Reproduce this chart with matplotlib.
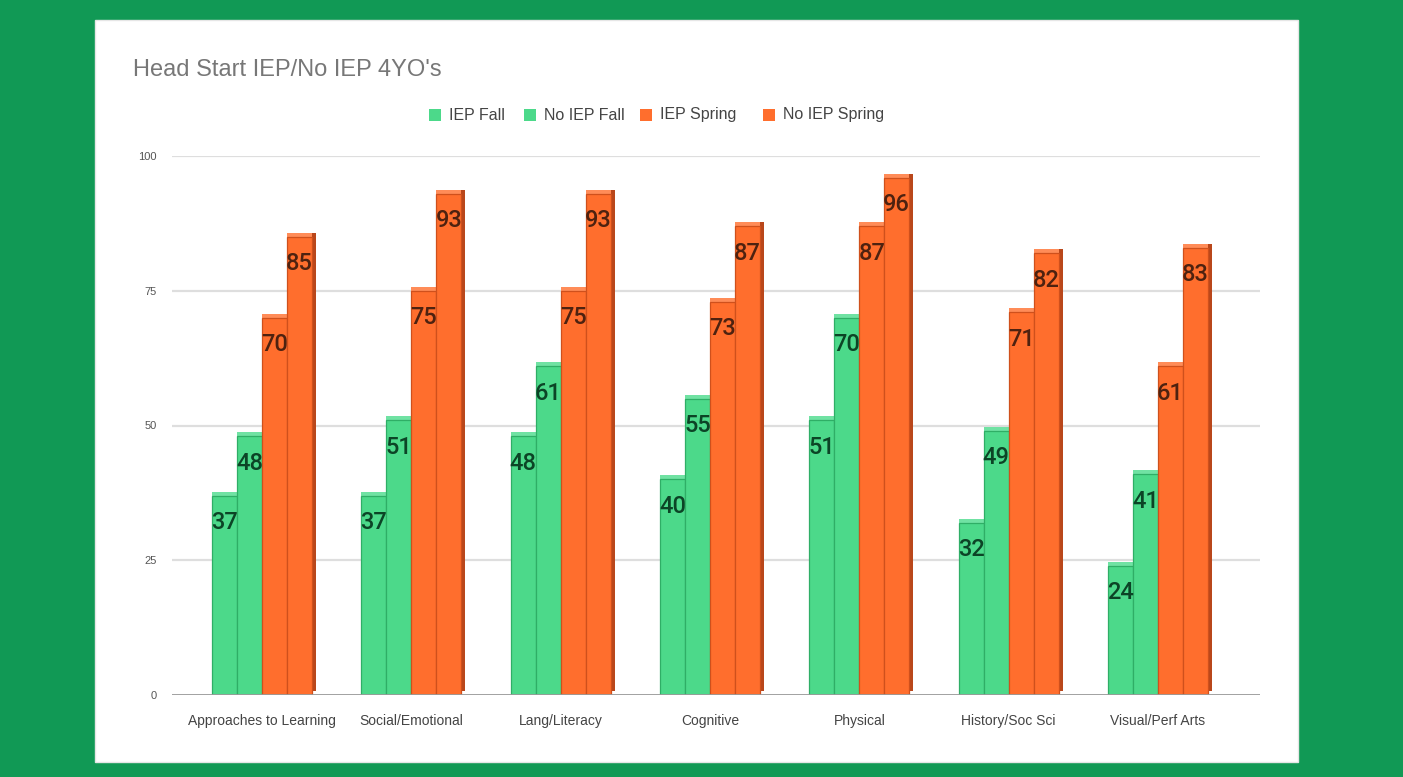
import matplotlib
matplotlib.use("Agg")
import matplotlib.pyplot as plt
import numpy as np
from matplotlib.transforms import ScaledTranslation
from matplotlib.patches import Rectangle

categories = ["Approaches to Learning", "Social/Emotional", "Lang/Literacy",
              "Cognitive", "Physical", "History/Soc Sci", "Visual/Perf Arts"]
series_names = ["IEP Fall", "No IEP Fall", "IEP Spring", "No IEP Spring"]
iep_fall = [37, 37, 48, 40, 51, 32, 24]
no_iep_fall = [48, 51, 61, 55, 70, 49, 41]
iep_spring = [70, 75, 75, 73, 87, 71, 61]
no_iep_spring = [85, 93, 93, 87, 96, 82, 83]
yticks = [0, 25, 50, 75, 100]

series = [iep_fall, no_iep_fall, iep_spring, no_iep_spring]
front_cols = ["#4cd98a", "#4cd98a", "#ff6e2d", "#ff6e2d"]
side_cols = ["#2c9e5e", "#2c9e5e", "#b9471b", "#b9471b"]
top_cols = ["#70e2a3", "#70e2a3", "#ff8c58", "#ff8c58"]
edge_cols = ["#2fae66", "#2fae66", "#cf501c", "#cf501c"]
label_cols = ["#0c4426", "#0c4426", "#4e2210", "#4e2210"]

W, H = 1403, 777
fig = plt.figure(figsize=(W / 100, H / 100), dpi=100)
fig.patch.set_facecolor("#119955")
# white panel
fig.patches.append(Rectangle((95 / W, 1 - 762 / H), (1298 - 95) / W, (762 - 20) / H,
                             transform=fig.transFigure, facecolor="white",
                             edgecolor="#e6e6e6", lw=1.0, zorder=-5))

ax = fig.add_axes([172 / W, 1 - 695 / H, (1260 - 172) / W, (695 - 156) / H])
ax.set_zorder(2)
ax.set_facecolor("none")
ax.set_xlim(-0.603, 6.683)
ax.set_ylim(0, 100)
for s in ax.spines.values():
    s.set_visible(False)
ax.set_yticks(yticks)
ax.set_yticklabels([str(t) for t in yticks], fontsize=8, color="#555555",
                   family="Liberation Sans")
ax.tick_params(axis="y", length=0, pad=11)
ax.set_xticks(np.arange(len(categories)))
ax.set_xticklabels(categories, fontsize=10, color="#444444", family="Liberation Sans")
ax.tick_params(axis="x", length=0, pad=14)
for t in yticks:
    if t == 0:
        ax.axhline(t, color="#9a9a9a", lw=1.3, zorder=20)
    else:
        ax.axhline(t, color="#dedede", lw=1.6, zorder=0.5)

x = np.arange(len(categories))
bw = 0.167
dx, dy = 4 / 100, 4 / 100
side_tr = ax.transData + ScaledTranslation(dx, dy, fig.dpi_scale_trans)
top_tr = ax.transData + ScaledTranslation(0, dy, fig.dpi_scale_trans)

for i, (vals, fc, sc, tc, ec, lc) in enumerate(zip(series, front_cols, side_cols,
                                                   top_cols, edge_cols, label_cols)):
    xs = x + (i - 1.5) * bw
    z = 2 + i
    ax.bar(xs, vals, width=bw, color=sc, transform=side_tr, zorder=z)
    ax.bar(xs, vals, width=bw, color=tc, transform=top_tr, zorder=z + 0.1)
    ax.bar(xs, vals, width=bw, color=fc, edgecolor=ec, lw=0.9, zorder=z + 0.2)
    for xv, v in zip(xs, vals):
        ax.annotate(str(v), (xv, v), xytext=(0, -19.5), textcoords="offset points",
                    ha="center", va="center", fontsize=17, color=lc,
                    family="Roboto", fontweight="medium", zorder=10)

# title
fig.text(133 / W, 1 - 70 / H, "Head Start IEP/No IEP 4YO's", fontsize=17,
         color="#777777", family="Liberation Sans", va="center", ha="left")

# legend
sq_x = [429, 524, 640, 763]
ly = 115
for sx, name, fc in zip(sq_x, series_names, front_cols):
    fig.patches.append(Rectangle((sx / W, 1 - (ly + 6) / H), 12 / W, 12 / H,
                                 transform=fig.transFigure, facecolor=fc,
                                 edgecolor="none"))
    fig.text((sx + 20) / W, 1 - ly / H, name, fontsize=11.5, color="#444444",
             family="Liberation Sans", va="center", ha="left")

fig.savefig("out.png", dpi=100, facecolor=fig.get_facecolor())
